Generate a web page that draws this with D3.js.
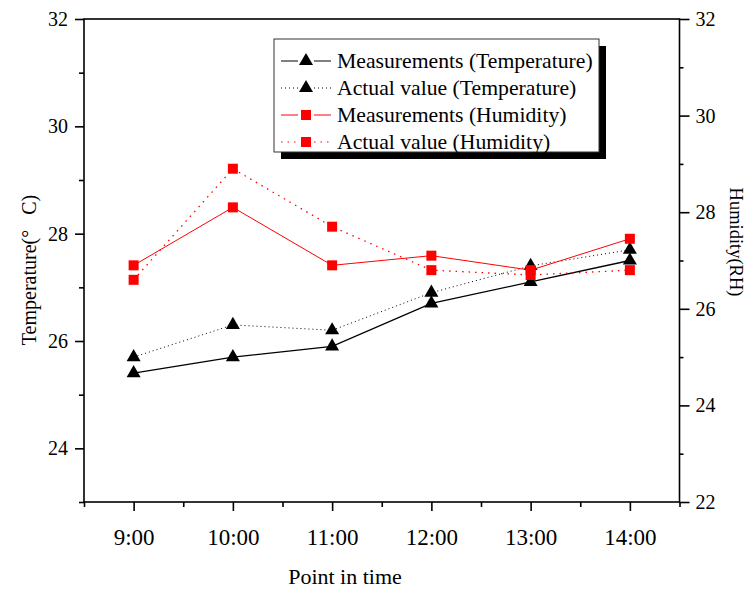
<!DOCTYPE html>
<html>
<head>
<meta charset="utf-8">
<script src="https://cdn.jsdelivr.net/npm/d3@7"></script>
<style>
  body { margin: 0; background: #fff; }
  text { font-family: "Liberation Serif", "Times New Roman", serif; fill: #000; }
</style>
</head>
<body>
<svg width="748" height="590"></svg>
<script>
// values
var times = ["9:00", "10:00", "11:00", "12:00", "13:00", "14:00"];
var tempMeasured = [25.4, 25.7, 25.9, 26.7, 27.1, 27.5];
var tempActual = [25.7, 26.3, 26.2, 26.9, 27.4, 27.7];
var humMeasured = [26.9, 28.1, 26.9, 27.1, 26.8, 27.45];
var humActual = [26.6, 28.9, 27.7, 26.8, 26.7, 26.8];

var leftTicks = [24, 26, 28, 30, 32];
var leftMinor = [23, 25, 27, 29, 31];
var rightTicks = [22, 24, 26, 28, 30, 32];
var rightMinor = [23, 25, 27, 29, 31];

var legendNames = ["Measurements (Temperature)", "Actual value (Temperature)",
                   "Measurements (Humidity)", "Actual value (Humidity)"];

var plot = {left: 84, right: 679.5, top: 19, bottom: 502};

var svg = d3.select("svg");

var x = d3.scaleLinear().domain([-0.5, 5.5]).range([plot.left, plot.right]);
var yL = d3.scaleLinear().domain([23, 32]).range([plot.bottom, plot.top]);
var yR = d3.scaleLinear().domain([22, 32]).range([plot.bottom, plot.top]);

var series = [
  {values: tempMeasured, scale: yL, color: "#000", dash: null, width: 1.3, sym: d3.symbolTriangle, size: 85},
  {values: tempActual, scale: yL, color: "#000", dash: "1,3", width: 1, sym: d3.symbolTriangle, size: 85},
  {values: humMeasured, scale: yR, color: "#ff0000", dash: null, width: 1, sym: d3.symbolSquare, size: 100},
  {values: humActual, scale: yR, color: "#ff0000", dash: "1.5,5", width: 1.3, sym: d3.symbolSquare, size: 100}
];

// frame
svg.append("rect")
  .attr("x", plot.left).attr("y", plot.top)
  .attr("width", plot.right - plot.left).attr("height", plot.bottom - plot.top)
  .attr("fill", "none").attr("stroke", "#000").attr("stroke-width", 1.6);

var styleAxis = function(g, fs) {
  g.select(".domain").remove();
  g.selectAll("line").attr("stroke", "#000").attr("stroke-width", 1.6);
  g.selectAll("text").attr("font-size", fs).attr("fill", "#000")
    .style("font-family", "'Liberation Serif', serif");
};

// x axis
svg.append("g")
  .attr("transform", "translate(0," + plot.bottom + ")")
  .call(d3.axisBottom(x).tickValues(d3.range(times.length)).tickSize(9).tickPadding(18)
    .tickFormat(function(i) { return times[i]; }))
  .call(styleAxis, "23px");
svg.append("g")
  .attr("transform", "translate(0," + plot.bottom + ")")
  .call(d3.axisBottom(x).tickValues(d3.range(-0.5, 6, 1)).tickSize(5).tickFormat(""))
  .call(styleAxis, "0px");

// left axis
svg.append("g")
  .attr("transform", "translate(" + plot.left + ",0)")
  .call(d3.axisLeft(yL).tickValues(leftTicks).tickSize(9).tickPadding(7))
  .call(styleAxis, "20px");
svg.append("g")
  .attr("transform", "translate(" + plot.left + ",0)")
  .call(d3.axisLeft(yL).tickValues(leftMinor).tickSize(5).tickFormat(""))
  .call(styleAxis, "0px");

// right axis
svg.append("g")
  .attr("transform", "translate(" + plot.right + ",0)")
  .call(d3.axisRight(yR).tickValues(rightTicks).tickSize(10).tickPadding(6))
  .call(styleAxis, "20px");
svg.append("g")
  .attr("transform", "translate(" + plot.right + ",0)")
  .call(d3.axisRight(yR).tickValues(rightMinor).tickSize(4).tickFormat(""))
  .call(styleAxis, "0px");

// axis titles
svg.append("text")
  .attr("transform", "translate(36,270) rotate(-90)")
  .attr("text-anchor", "middle")
  .attr("font-size", "20px")
  .text("Temperature(°\u00a0\u00a0\u00a0C)");

svg.append("text")
  .attr("transform", "translate(729.5,242) rotate(90)")
  .attr("text-anchor", "middle")
  .attr("font-size", "18.5px")
  .text("Humidity(RH)");

svg.append("text")
  .attr("x", 345).attr("y", 584)
  .attr("text-anchor", "middle")
  .attr("font-size", "22px")
  .text("Point in time");

// lines and markers
series.forEach(function(s) {
  var line = d3.line()
    .x(function(d, i) { return x(i); })
    .y(function(d) { return s.scale(d); });
  svg.append("path")
    .datum(s.values)
    .attr("d", line)
    .attr("fill", "none")
    .attr("stroke", s.color)
    .attr("stroke-width", s.width)
    .attr("stroke-dasharray", s.dash);
  svg.append("g").selectAll("path")
    .data(s.values)
    .enter()
    .append("path")
    .attr("d", d3.symbol().type(s.sym).size(s.size))
    .attr("transform", function(d, i) { return "translate(" + x(i) + "," + s.scale(d) + ")"; })
    .attr("fill", s.color);
});

// legend
var leg = svg.append("g");
leg.append("rect")
  .attr("x", 281).attr("y", 46).attr("width", 325).attr("height", 113)
  .attr("fill", "#000");
leg.append("rect")
  .attr("x", 274).attr("y", 39).attr("width", 325).attr("height", 113)
  .attr("fill", "#fff").attr("stroke", "#333").attr("stroke-width", 1);

var rows = leg.selectAll(".row")
  .data(series)
  .enter()
  .append("g")
  .attr("class", "row")
  .attr("transform", function(d, i) { return "translate(0," + (61 + i * 27) + ")"; });

// line pieces either side of the marker
[[281, 298], [314, 331]].forEach(function(seg) {
  rows.append("line")
    .attr("x1", seg[0]).attr("x2", seg[1]).attr("y1", 0).attr("y2", 0)
    .attr("stroke", function(d) { return d.color; })
    .attr("stroke-width", 1)
    .attr("stroke-dasharray", function(d) { return d.dash; });
});
rows.append("path")
  .attr("d", function(d) { return d3.symbol().type(d.sym).size(d.size)(); })
  .attr("transform", "translate(306,0)")
  .attr("fill", function(d) { return d.color; });
rows.append("text")
  .attr("x", 337).attr("y", 6.5)
  .attr("font-size", "21.7px")
  .text(function(d, i) { return legendNames[i]; });
</script>
</body>
</html>
